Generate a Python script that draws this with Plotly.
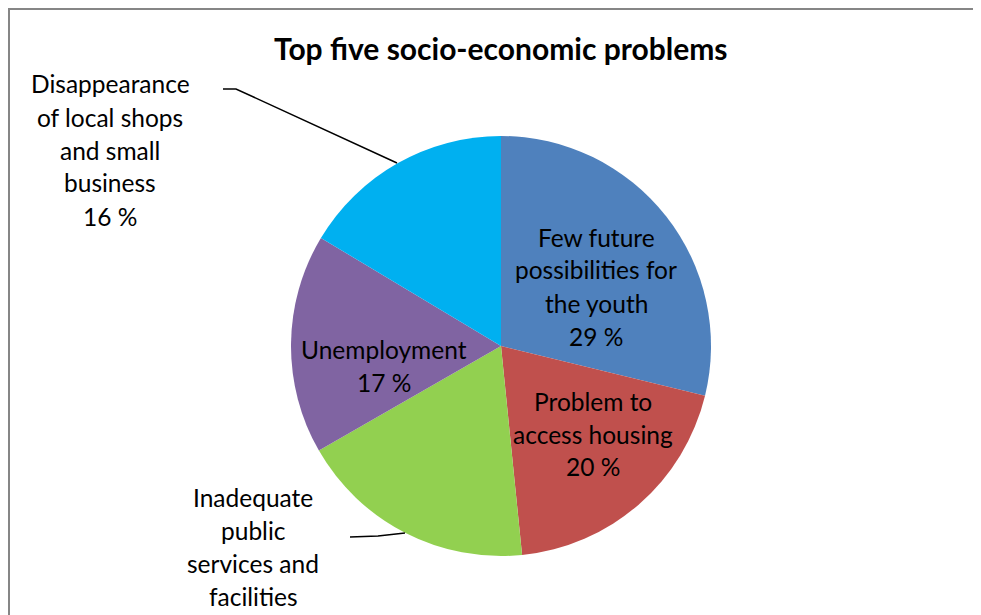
import plotly.graph_objects as go

# ---- data ----
categories = [
    "Few future<br>possibilities for<br>the youth",
    "Problem to<br>access housing",
    "Inadequate<br>public<br>services and<br>facilities",
    "Unemployment",
    "Disappearance<br>of local shops<br>and small<br>business",
]
values = [28.8, 19.6, 18.3, 16.9, 16.4]
colors = ["#4F81BD", "#C0504D", "#92D050", "#8064A2", "#00B0F0"]
title_text = "Top five socio-economic problems"

OX, OY = 8, 8  # page offset of the figure inside the browser window
W, H = 981 - OX, 615 - OY
FONT = "Lato"

def px(x):
    return (x - OX) / W

def py(y):
    return 1 - (y - OY) / H

# pie geometry (screen pixels)
cx, cy, r = 501, 346, 210

fig = go.Figure(go.Pie(
    labels=[c.replace("<br>", " ") for c in categories],
    values=values,
    marker=dict(colors=colors, line=dict(width=0)),
    sort=False,
    direction="clockwise",
    rotation=0,
    textinfo="none",
    hoverinfo="label+percent",
    showlegend=False,
    domain=dict(x=[px(cx - r), px(cx + r)], y=[py(cy + r), py(cy - r)]),
))

# label placement: (center x, first line y) in screen pixels
label_pos = [(596, 237), (593, 401), (253, 497), (384, 349), (110, 84)]
line_gap = 33
total = sum(values)
annotations = []
for cat, v, (lx, ly) in zip(categories, values, label_pos):
    lines = cat.split("<br>") + [f"{round(100 * v / total)} %"]
    for i, t in enumerate(lines):
        yy = ly + i * line_gap
        if yy - OY + 4 > H:  # beyond the bottom of the chart area
            continue
        annotations.append(dict(
            x=px(lx), y=py(yy), xref="paper", yref="paper",
            text=t, showarrow=False, xanchor="center", yanchor="middle",
            font=dict(family=FONT, size=24.5, color="#000000"),
        ))

annotations.append(dict(
    x=px(501), y=py(48), xref="paper", yref="paper", text=f"<b>{title_text}</b>",
    showarrow=False, xanchor="center", yanchor="middle",
    font=dict(family=FONT, size=30, color="#000000"),
))

def path(points):
    return "M " + " L ".join(f"{px(x)},{py(y)}" for x, y in points)

shapes = [
    # chart frame (top and left edges visible)
    dict(type="path", xref="paper", yref="paper",
         path=path([(9, 700), (9, 9), (1100, 9)]),
         line=dict(color="#868686", width=2)),
    # leader lines
    dict(type="path", xref="paper", yref="paper",
         path=path([(223, 89), (236, 89), (397, 163)]),
         line=dict(color="#000000", width=1.5)),
    dict(type="path", xref="paper", yref="paper",
         path=path([(350, 537), (378, 536), (405, 533)]),
         line=dict(color="#000000", width=1.5)),
]

fig.update_layout(
    width=W, height=H,
    margin=dict(l=0, r=0, t=0, b=0),
    paper_bgcolor="#FFFFFF",
    plot_bgcolor="#FFFFFF",
    annotations=annotations,
    shapes=shapes,
)

fig.write_html("out.html")
